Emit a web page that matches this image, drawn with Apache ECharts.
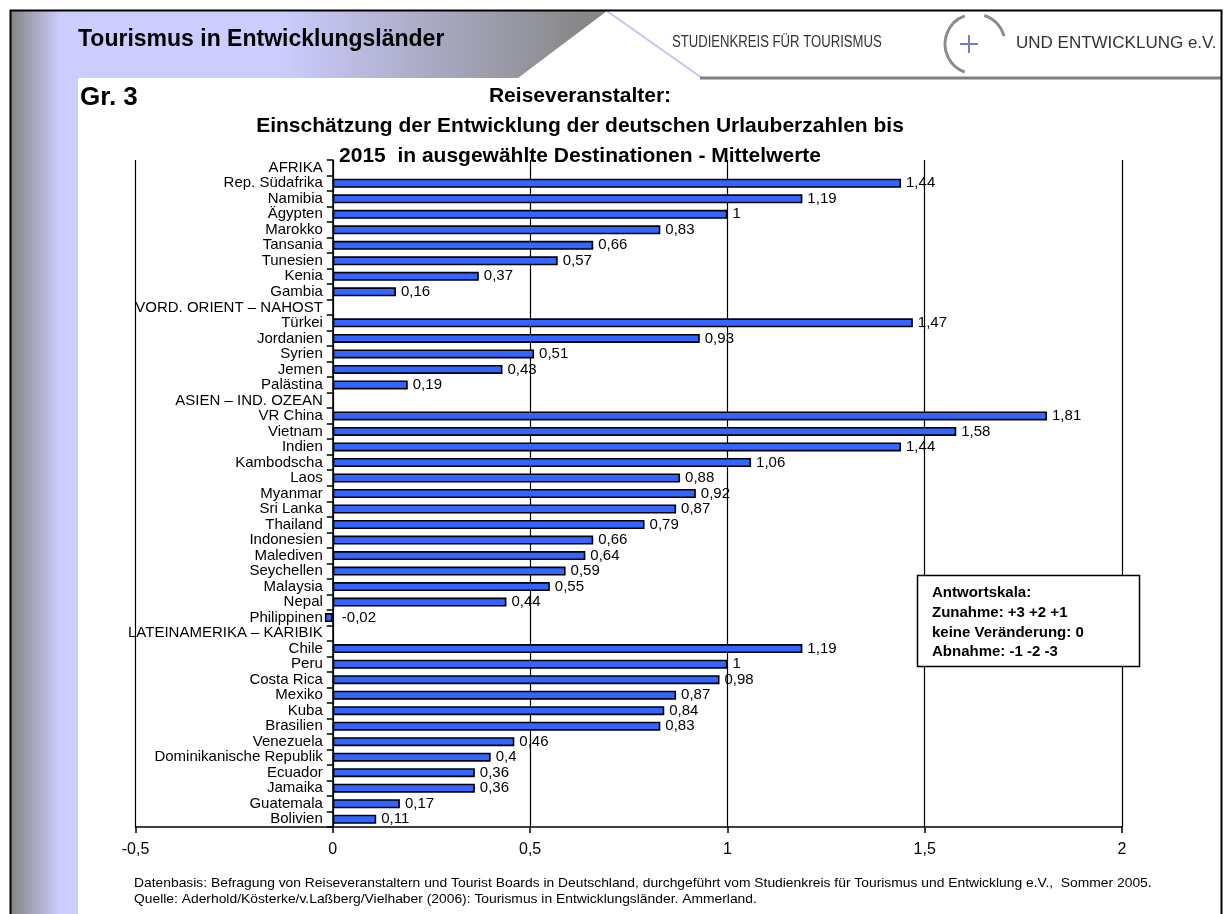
<!DOCTYPE html>
<html><head><meta charset="utf-8">
<script src="https://cdn.jsdelivr.net/npm/echarts@6/dist/echarts.min.js"></script>
<style>html,body{margin:0;padding:0;background:#fff}#c{width:1224px;height:914px}</style>
</head><body><div id="c"></div>
<script>
const categories = ["AFRIKA","Rep. Südafrika","Namibia","Ägypten","Marokko","Tansania","Tunesien","Kenia","Gambia",
  "VORD. ORIENT – NAHOST","Türkei","Jordanien","Syrien","Jemen","Palästina",
  "ASIEN – IND. OZEAN","VR China","Vietnam","Indien","Kambodscha","Laos","Myanmar","Sri Lanka","Thailand","Indonesien","Malediven","Seychellen","Malaysia","Nepal","Philippinen",
  "LATEINAMERIKA – KARIBIK","Chile","Peru","Costa Rica","Mexiko","Kuba","Brasilien","Venezuela","Dominikanische Republik","Ecuador","Jamaika","Guatemala","Bolivien"];
const values = [null,1.44,1.19,1,0.83,0.66,0.57,0.37,0.16,
  null,1.47,0.93,0.51,0.43,0.19,
  null,1.81,1.58,1.44,1.06,0.88,0.92,0.87,0.79,0.66,0.64,0.59,0.55,0.44,-0.02,
  null,1.19,1,0.98,0.87,0.84,0.83,0.46,0.4,0.36,0.36,0.17,0.11];
const xTicks = [-0.5, 0, 0.5, 1, 1.5, 2];
const headerText = "Tourismus in Entwicklungsländer";
const figureNo = "Gr. 3";
const titleLines = ["Reiseveranstalter:", "Einschätzung der Entwicklung der deutschen Urlauberzahlen bis", "2015  in ausgewählte Destinationen - Mittelwerte"];
const legendLines = ["Antwortskala:", "Zunahme: +3 +2 +1", "keine Veränderung: 0", "Abnahme: -1 -2 -3"];
const footerLines = ["Datenbasis: Befragung von Reiseveranstaltern und Tourist Boards in Deutschland, durchgeführt vom Studienkreis für Tourismus und Entwicklung e.V.,  Sommer 2005.",
  "Quelle: Aderhold/Kösterke/v.Laßberg/Vielhaber (2006): Tourismus in Entwicklungsländer. Ammerland."];
const logoLeft = "STUDIENKREIS FÜR TOURISMUS";
const logoRight = "UND ENTWICKLUNG e.V.";

const FF = '"Liberation Sans", Arial, sans-serif';
const fmt = v => String(v).replace('.', ',');

const GRID_LEFT = 135.5, GRID_RIGHT = 102, CHART_W = 1224;
const xMin = xTicks[0], xMax = xTicks[xTicks.length - 1];
// shift the category axis from the grid's left edge to the value 0
const zeroOffset = (0 - xMin) / (xMax - xMin) * (CHART_W - GRID_LEFT - GRID_RIGHT);

function txt(text, x, y, font, opts) {
  opts = opts || {};
  return Object.assign({
    type: 'text', x: x, y: y, z: 20,
    style: { text: text, x: 0, y: 0, font: font, fill: opts.fill || '#000',
      textAlign: opts.align || 'left', align: opts.align || 'left',
      textVerticalAlign: 'middle', verticalAlign: 'middle' }
  }, opts.el || {});
}

const graphics = [
  { type: 'polygon', z: 1, shape: { points: [[11,11],[607,11],[518,78],[11,78]] },
    style: { fill: new echarts.graphic.LinearGradient(280, 0, 585, 0, [
      { offset: 0, color: '#ccccff' }, { offset: 1, color: '#878787' }], true) } },
  { type: 'rect', z: 2, shape: { x: 11, y: 11, width: 67, height: 903 },
    style: { fill: new echarts.graphic.LinearGradient(12, 0, 60, 0, [
      { offset: 0, color: '#878787' }, { offset: 1, color: '#ccccff' }], true) } },
  { type: 'line', z: 3, shape: { x1: 607, y1: 11, x2: 702, y2: 78 }, style: { stroke: '#c4c4f4', lineWidth: 2 } },
  { type: 'line', z: 3, shape: { x1: 700, y1: 78, x2: 1221, y2: 78 }, style: { stroke: '#7f7f7f', lineWidth: 3 } },
  { type: 'polyline', z: 30, shape: { points: [[10.5,914],[10.5,10.5],[1221.5,10.5],[1221.5,914]] },
    style: { stroke: '#000', lineWidth: 2, fill: null } },
  txt(logoLeft, 672, 43, '16px ' + FF, { fill: '#333', el: { scaleX: 0.82 } }),
  { type: 'arc', z: 20, shape: { cx: 975, cy: 44, r: 30, startAngle: 110 * Math.PI / 180, endAngle: 250 * Math.PI / 180 },
    style: { stroke: '#8c8c8c', lineWidth: 3, fill: null } },
  { type: 'arc', z: 20, shape: { cx: 975, cy: 44, r: 30, startAngle: -72 * Math.PI / 180, endAngle: -15 * Math.PI / 180 },
    style: { stroke: '#8c8c8c', lineWidth: 3, fill: null } },
  { type: 'line', z: 20, shape: { x1: 960, y1: 44, x2: 978, y2: 44 }, style: { stroke: '#6f7fcc', lineWidth: 2 } },
  { type: 'line', z: 20, shape: { x1: 969, y1: 35, x2: 969, y2: 53 }, style: { stroke: '#6f7fcc', lineWidth: 2 } },
  txt(logoRight, 1016, 43, '17px ' + FF, { fill: '#333' }),
  txt(headerText, 78, 40, 'bold 23px ' + FF),
  txt(figureNo, 80, 98, 'bold 26px ' + FF),
  { type: 'rect', z: 20, shape: { x: 917.5, y: 575.5, width: 222, height: 91 },
    style: { fill: '#fff', stroke: '#000', lineWidth: 1.5 } }
];
titleLines.forEach((t, i) => graphics.push(txt(t, 580, 96 + i * 30, 'bold 21px ' + FF, { align: 'center' })));
legendLines.forEach((t, i) => graphics.push(txt(t, 932, 593 + i * 19.7, 'bold 15px ' + FF, { el: { z: 21 } })));
footerLines.forEach((t, i) => graphics.push(txt(t, 134, 883 + i * 16, '13px ' + FF, { el: { scaleX: 1.065 } })));

const barData = values.map(v => (v === null ? '-' : (v < 0 ? { value: v, label: { distance: 9 } } : v)));

const chart = echarts.init(document.getElementById('c'), null, { renderer: 'canvas' });
chart.setOption({
  animation: false,
  backgroundColor: '#fff',
  grid: { left: GRID_LEFT, right: GRID_RIGHT, top: 160, bottom: 87, containLabel: false, outerBoundsMode: 'none' },
  xAxis: {
    type: 'value', min: xMin, max: xMax, interval: xTicks[1] - xTicks[0],
    axisLine: { show: true, lineStyle: { color: '#000', width: 1.5 } },
    axisTick: { show: true, length: 6, lineStyle: { color: '#000', width: 1.5 } },
    splitLine: { show: true, lineStyle: { color: '#000', width: 1.2 } },
    axisLabel: { fontSize: 16, fontFamily: FF, color: '#000', margin: 15, formatter: v => fmt(v) }
  },
  yAxis: {
    type: 'category', inverse: true, data: categories,
    offset: -zeroOffset,
    axisLine: { show: true, onZero: false, lineStyle: { color: '#000', width: 1.5 } },
    axisTick: { show: true, alignWithLabel: false, length: 6, lineStyle: { color: '#000', width: 1.5 } },
    splitLine: { show: false },
    axisLabel: { interval: 0, fontSize: 15, fontFamily: FF, color: '#000', margin: 10 }
  },
  series: [{
    type: 'bar', data: barData, barWidth: 9,
    itemStyle: { color: '#3366ff', borderColor: '#000', borderWidth: 1.6 },
    label: { show: true, position: 'right', distance: 5, fontSize: 15, fontFamily: FF, color: '#000',
      formatter: p => fmt(p.value) }
  }],
  graphic: { elements: graphics }
});
</script></body></html>
